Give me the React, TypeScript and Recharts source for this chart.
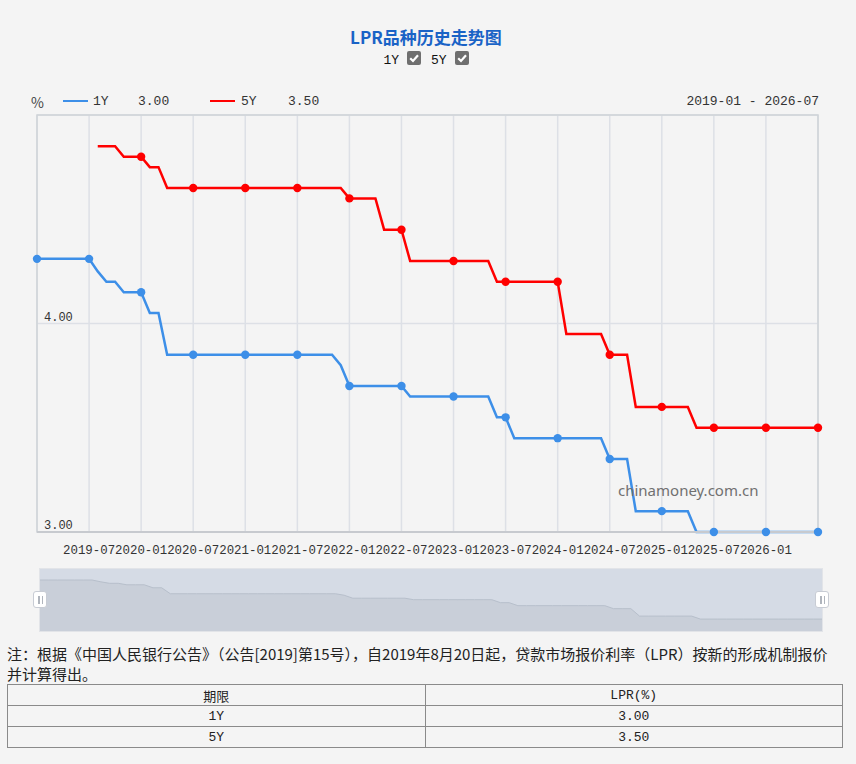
import React from "react";
import { LineChart, Line, XAxis, YAxis, CartesianGrid, ReferenceArea, AreaChart, Area } from "recharts";

// monthly points, 2019-01 .. 2026-07
const months: string[] = [];
for (let y = 2019; y <= 2026; y++) {
  for (let m = 1; m <= 12; m++) {
    if (y === 2026 && m > 7) break;
    months.push(`${y}-${String(m).padStart(2, "0")}`);
  }
}

// 1Y LPR (%)
const oneY: number[] = [
  4.31, 4.31, 4.31, 4.31, 4.31, 4.31, 4.31, 4.25, 4.2, 4.2, 4.15, 4.15, // 2019
  4.15, 4.05, 4.05, 3.85, 3.85, 3.85, 3.85, 3.85, 3.85, 3.85, 3.85, 3.85, // 2020
  3.85, 3.85, 3.85, 3.85, 3.85, 3.85, 3.85, 3.85, 3.85, 3.85, 3.85, 3.8, // 2021
  3.7, 3.7, 3.7, 3.7, 3.7, 3.7, 3.7, 3.65, 3.65, 3.65, 3.65, 3.65, // 2022
  3.65, 3.65, 3.65, 3.65, 3.65, 3.55, 3.55, 3.45, 3.45, 3.45, 3.45, 3.45, // 2023
  3.45, 3.45, 3.45, 3.45, 3.45, 3.45, 3.35, 3.35, 3.35, 3.1, 3.1, 3.1, // 2024
  3.1, 3.1, 3.1, 3.1, 3.0, 3.0, 3.0, 3.0, 3.0, 3.0, 3.0, 3.0, // 2025
  3.0, 3.0, 3.0, 3.0, 3.0, 3.0, 3.0, // 2026
];

// 5Y LPR (%)
const fiveY: (number | null)[] = [
  null, null, null, null, null, null, null, 4.85, 4.85, 4.85, 4.8, 4.8, // 2019
  4.8, 4.75, 4.75, 4.65, 4.65, 4.65, 4.65, 4.65, 4.65, 4.65, 4.65, 4.65, // 2020
  4.65, 4.65, 4.65, 4.65, 4.65, 4.65, 4.65, 4.65, 4.65, 4.65, 4.65, 4.65, // 2021
  4.6, 4.6, 4.6, 4.6, 4.45, 4.45, 4.45, 4.3, 4.3, 4.3, 4.3, 4.3, // 2022
  4.3, 4.3, 4.3, 4.3, 4.3, 4.2, 4.2, 4.2, 4.2, 4.2, 4.2, 4.2, // 2023
  4.2, 3.95, 3.95, 3.95, 3.95, 3.95, 3.85, 3.85, 3.85, 3.6, 3.6, 3.6, // 2024
  3.6, 3.6, 3.6, 3.6, 3.5, 3.5, 3.5, 3.5, 3.5, 3.5, 3.5, 3.5, // 2025
  3.5, 3.5, 3.5, 3.5, 3.5, 3.5, 3.5, // 2026
];

const xTickLabels = [
  "2019-07", "2020-01", "2020-07", "2021-01", "2021-07", "2022-01", "2022-07",
  "2023-01", "2023-07", "2024-01", "2024-07", "2025-01", "2025-07", "2026-01",
];
const yTicks = [3, 4, 5];
const yTickLabels = ["3.00", "4.00"];

const latest = { oneY: "3.00", fiveY: "3.50" };

const data = months.map((month, i) => ({ i, month, oneY: oneY[i], fiveY: fiveY[i] }));
const lastIdx = months.length - 1;
const gridTicks = [0, ...xTickLabels.map((l) => months.indexOf(l)), lastIdx];

const BLUE = "#3d8fe8";
const RED = "#ff0000";
const MONO = "'Liberation Mono', 'DejaVu Sans Mono', monospace";
const CJK = "'Noto Sans CJK SC', 'Noto Sans', sans-serif";

const makeDot = (color: string) => (props: any) => {
  const { cx, cy, index, value } = props;
  if (index % 6 !== 0 || value == null || cy == null) return <g key={`d-${index}`} />;
  return <circle key={`d-${index}`} cx={cx} cy={cy} r={4.2} fill={color} />;
};

const XTick = (props: any) => {
  const { x, y, payload } = props;
  const label = months[payload.value];
  if (!xTickLabels.includes(label)) return <g />;
  return (
    <text x={x} y={y + 22} textAnchor="middle" fontFamily={MONO} fontSize={12.4} fill="#333">
      {label}
    </text>
  );
};

const YTick = (props: any) => {
  const { x, y, payload } = props;
  const label = yTickLabels.find((l) => Number(l) === Number(payload.value));
  if (!label) return <g />;
  return (
    <text x={x + 7} y={y - 3} fontFamily={MONO} fontSize={12} fill="#333" textAnchor="start">
      {label}
    </text>
  );
};

const CheckBox = () => (
  <span style={{ display: "inline-block", width: 14, height: 14, background: "#6f6f6f", borderRadius: 2, verticalAlign: "-1px", marginLeft: 8 }}>
    <svg width={14} height={14}>
      <path d="M3.2 7.2 L6 10 L11 4.2" stroke="#fff" strokeWidth={2.2} fill="none" />
    </svg>
  </span>
);

const Handle = ({ left }: { left: number }) => (
  <div style={{ position: "absolute", left, top: 591, width: 14, height: 17, background: "#fff", border: "1px solid #c8ccd4", borderRadius: 3, boxSizing: "border-box" }}>
    <div style={{ position: "absolute", left: 4, top: 4, width: 1.5, height: 8, background: "#b0b5bd" }} />
    <div style={{ position: "absolute", left: 7.5, top: 4, width: 1.5, height: 8, background: "#b0b5bd" }} />
  </div>
);

const cell: React.CSSProperties = { border: "1px solid #8a8a8a", height: 20, padding: 0, textAlign: "center", fontFamily: MONO, fontSize: 13, color: "#222", width: "50%" };

export default function App() {
  return (
    <div style={{ position: "absolute", left: 0, top: 0, width: 856, height: 764, background: "#f4f4f4", overflow: "hidden", fontFamily: CJK }}>
      {/* title */}
      <div style={{ position: "absolute", left: 0, width: 852, top: 24, textAlign: "center", fontSize: 17, fontWeight: "bold", color: "#1a63c6", fontFamily: CJK }}>
        LPR品种历史走势图
      </div>
      <div style={{ position: "absolute", left: 0, width: 852, top: 51, textAlign: "center", fontSize: 13, fontFamily: MONO, color: "#111" }}>
        <span>1Y</span>
        <CheckBox />
        <span style={{ marginLeft: 10 }}>5Y</span>
        <CheckBox />
      </div>

      {/* legend row */}
      <div style={{ position: "absolute", left: 31, top: 92, fontFamily: CJK, fontSize: 14, color: "#444" }}>%</div>
      <div style={{ position: "absolute", left: 63, top: 100, width: 25, height: 2, background: BLUE }} />
      <div style={{ position: "absolute", left: 93, top: 94, fontFamily: MONO, fontSize: 13, color: "#333" }}>1Y</div>
      <div style={{ position: "absolute", left: 138, top: 94, fontFamily: MONO, fontSize: 13, color: "#333" }}>{latest.oneY}</div>
      <div style={{ position: "absolute", left: 210, top: 100, width: 25, height: 2, background: RED }} />
      <div style={{ position: "absolute", left: 241, top: 94, fontFamily: MONO, fontSize: 13, color: "#333" }}>5Y</div>
      <div style={{ position: "absolute", left: 288, top: 94, fontFamily: MONO, fontSize: 13, color: "#333" }}>{latest.fiveY}</div>
      <div style={{ position: "absolute", right: 856 - 819, top: 94, fontFamily: MONO, fontSize: 13, color: "#333" }}>
        {months[0]} - {months[lastIdx]}
      </div>

      {/* main chart */}
      <div style={{ position: "absolute", left: 0, top: 0 }}>
        <LineChart width={856} height={560} data={data} margin={{ top: 115, left: 37, right: 38, bottom: 0 }}>
          <CartesianGrid stroke="#dde0e6" strokeWidth={1.5} />
          <XAxis
            dataKey="i"
            type="number"
            domain={[0, lastIdx]}
            ticks={gridTicks}
            interval={0}
            height={28}
            tickLine={false}
            tickSize={0}
            tickMargin={0}
            axisLine={{ stroke: "#c7cacf", strokeWidth: 2 }}
            tick={<XTick />}
          />
          <YAxis
            type="number"
            domain={[3, 5]}
            ticks={yTicks}
            interval={0}
            mirror
            width={60}
            tickSize={0}
            tickMargin={0}
            axisLine={false}
            tickLine={false}
            tick={<YTick />}
          />
          <ReferenceArea x1={0} x2={lastIdx} y1={3} y2={5} fill="none" stroke="#d0d3d8" strokeWidth={1.5} />
          <Line type="linear" dataKey="oneY" stroke={BLUE} strokeWidth={2.5} dot={makeDot(BLUE)} isAnimationActive={false} />
          <Line type="linear" dataKey="fiveY" stroke={RED} strokeWidth={2.5} dot={makeDot(RED)} isAnimationActive={false} />
        </LineChart>
      </div>

      {/* watermark */}
      <div style={{ position: "absolute", left: 618, top: 480, fontFamily: "'Noto Sans', sans-serif", fontSize: 15, color: "#707070" }}>
        chinamoney.com.cn
      </div>

      {/* data zoom slider */}
      <div style={{ position: "absolute", left: 40, top: 569, width: 782, height: 62, background: "#d5dbe5", outline: "1px solid #e2e4e8" }}>
        <AreaChart width={782} height={62} data={data} margin={{ top: 0, left: 0, right: 0, bottom: 0 }}>
          <XAxis dataKey="i" type="number" domain={[0, lastIdx]} hide />
          <YAxis type="number" domain={[2.6, 4.68]} hide />
          <Area type="linear" dataKey="oneY" stroke="#b7bfcb" strokeWidth={1} fill="#c9cfd9" fillOpacity={1} dot={false} isAnimationActive={false} />
        </AreaChart>
      </div>
      <Handle left={33} />
      <Handle left={815} />

      {/* note */}
      <div style={{ position: "absolute", left: 7, top: 644, fontSize: 15, lineHeight: "20px", color: "#222", whiteSpace: "nowrap", fontFamily: CJK }}>
        注：根据《中国人民银行公告》（公告[2019]第15号），自2019年8月20日起，贷款市场报价利率（LPR）按新的形成机制报价
        <br />
        并计算得出。
      </div>

      {/* table */}
      <table style={{ position: "absolute", left: 7, top: 684, width: 836, borderCollapse: "collapse", tableLayout: "fixed" }}>
        <tbody>
          <tr>
            <td style={{ ...cell, fontFamily: CJK }}>期限</td>
            <td style={cell}>LPR(%)</td>
          </tr>
          <tr>
            <td style={cell}>1Y</td>
            <td style={cell}>{latest.oneY}</td>
          </tr>
          <tr>
            <td style={cell}>5Y</td>
            <td style={cell}>{latest.fiveY}</td>
          </tr>
        </tbody>
      </table>
    </div>
  );
}
